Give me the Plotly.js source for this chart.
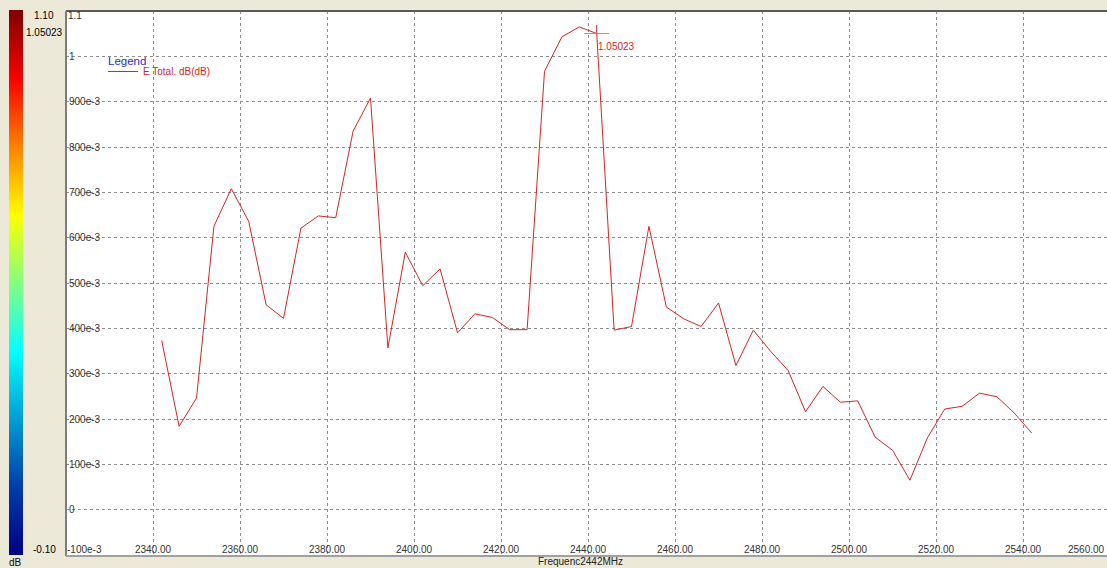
<!DOCTYPE html>
<html>
<head>
<meta charset="utf-8">
<script src="https://cdn.plot.ly/plotly-3.0.1.min.js"></script>
<style>html,body{margin:0;padding:0;background:#ECE9D8;}#chart{width:1107px;height:568px;}</style>
</head>
<body>
<div id="chart"></div>
<script>
// ---- data ----
const freqMHz = [2342,2346,2350,2354,2358,2362,2366,2370,2374,2378,2382,2386,2390,2394,2398,2402,2406,2410,2414,2418,2422,2426,2430,2434,2438,2442,2446,2450,2454,2458,2462,2466,2470,2474,2478,2482,2486,2490,2494,2498,2502,2506,2510,2514,2518,2522,2526,2530,2534,2538,2542];
const eTotalDB = [0.373,0.184,0.246,0.625,0.708,0.636,0.452,0.422,0.621,0.648,0.644,0.835,0.908,0.357,0.568,0.494,0.531,0.390,0.432,0.424,0.397,0.397,0.967,1.043,1.065,1.05023,0.396,0.404,0.625,0.447,0.421,0.404,0.456,0.318,0.396,0.349,0.307,0.216,0.272,0.237,0.240,0.160,0.131,0.065,0.158,0.222,0.228,0.257,0.249,0.213,0.169];
const markerFreq = 2442;
const markerLabel = "1.05023";
const xTickVals = [2340,2360,2380,2400,2420,2440,2460,2480,2500,2520,2540];
const xTickText = ["2340.00","2360.00","2380.00","2400.00","2420.00","2440.00","2460.00","2480.00","2500.00","2520.00","2540.00"];
const yTickVals = [0,0.1,0.2,0.3,0.4,0.5,0.6,0.7,0.8,0.9,1.0];
const yTickText = ["0","100e-3","200e-3","300e-3","400e-3","500e-3","600e-3","700e-3","800e-3","900e-3","1"];
const colorLevels = [-0.1,0.0,0.1,0.2,0.3,0.4,0.5,0.6,0.7,0.8,0.9,1.0,1.1];
const seriesName = "E Total. dB(dB)";
const xTitleText = "Frequenc2442MHz";

// ---- geometry helpers (pixels -> paper) ----
const W = 1107, H = 568;
const px = v => v / W;
const py = v => 1 - v / H;

const mi = freqMHz.indexOf(markerFreq);
const red = "rgb(212,38,38)";
const FONT = "Liberation Sans, Arial, sans-serif";

const jet = [[0,"rgb(0,0,131)"],[0.125,"rgb(0,60,170)"],[0.375,"rgb(5,255,255)"],[0.625,"rgb(255,255,0)"],[0.875,"rgb(250,0,0)"],[1,"rgb(128,0,0)"]];

const traces = [
  {
    x: freqMHz, y: eTotalDB, type: "scatter", mode: "lines",
    name: seriesName, line: {color: red, width: 1}, hoverinfo: "x+y"
  },
  {
    x: [freqMHz[mi]], y: [eTotalDB[mi]], type: "scatter", mode: "markers",
    showlegend: false, hoverinfo: "skip",
    marker: {symbol: "line-ew-open", size: 18, line: {color: red, width: 1}}
  },
  {
    z: colorLevels.map(v => [v]), y: colorLevels, x: [0], type: "heatmap",
    xaxis: "x3", yaxis: "y3", colorscale: jet, zmin: -0.1, zmax: 1.1,
    zsmooth: "best", showscale: false, hoverinfo: "skip"
  }
];

const gridCommon = {gridcolor: "#8c8c8c", griddash: "3px,3px", gridwidth: 1, zeroline: false};

const layout = {
  width: W, height: H,
  margin: {l: 0, r: 0, t: 0, b: 0, pad: 0},
  paper_bgcolor: "#ECE9D8", plot_bgcolor: "#ffffff",
  font: {family: FONT, size: 10, color: "#333"},
  showlegend: true,
  legend: {
    x: px(103), y: py(57), xanchor: "left", yanchor: "top",
    bgcolor: "rgba(0,0,0,0)", borderwidth: 0,
    font: {family: FONT, size: 10, color: red},
    itemwidth: 30, tracegroupgap: 0
  },
  xaxis: Object.assign({
    domain: [px(66), 1], range: [2320, 2559.3],
    tickvals: xTickVals, ticktext: xTickText, ticks: "",
    ticklabelposition: "inside", ticklabelstandoff: -3,
    tickfont: {family: FONT, size: 10, color: "#333"},
    showline: false
  }, gridCommon),
  yaxis: Object.assign({
    domain: [1 - 555 / H, 1 - 11 / H], range: [-0.1, 1.1],
    tickvals: yTickVals, ticktext: yTickText, ticks: "",
    ticklabelposition: "inside", tickfont: {family: FONT, size: 10, color: "#333"},
    showline: false
  }, gridCommon),
  xaxis2: {
    overlaying: "x", side: "top", anchor: "y", range: [2320, 2559.3],
    tickvals: xTickVals, ticks: "inside", ticklen: 11, tickwidth: 2, tickcolor: "#555",
    showticklabels: false, showgrid: false, zeroline: false, showline: false
  },
  yaxis2: {
    overlaying: "y", side: "right", anchor: "x", range: [-0.1, 1.1],
    tickvals: yTickVals, ticks: "inside", ticklen: 7, tickwidth: 2, tickcolor: "#555",
    showticklabels: false, showgrid: false, zeroline: false, showline: false
  },
  xaxis3: {domain: [px(9), px(23)], range: [-0.5, 0.5], visible: false, anchor: "y3"},
  yaxis3: {domain: [1 - 555 / H, 1 - 10 / H], range: [-0.1, 1.1], visible: false, anchor: "x3"},
  shapes: [
    {type: "line", xref: "paper", yref: "paper", x0: px(66), x1: 1, y0: py(11), y1: py(11), line: {color: "#5a5a5a", width: 2}},
    {type: "line", xref: "paper", yref: "paper", x0: px(66), x1: px(66), y0: py(11), y1: py(556), line: {color: "#7d7d7d", width: 2}},
    {type: "line", xref: "paper", yref: "paper", x0: px(66), x1: 1, y0: py(556), y1: py(556), line: {color: "#a0a0a0", width: 2}}
  ],
  annotations: [
    {xref: "paper", yref: "paper", x: px(44), y: py(16), text: "1.10", showarrow: false, xanchor: "center", yanchor: "middle", font: {size: 10, color: "#000"}},
    {xref: "paper", yref: "paper", x: px(44), y: py(32), text: markerLabel, showarrow: false, xanchor: "center", yanchor: "middle", font: {size: 10, color: "#000"}},
    {xref: "paper", yref: "paper", x: px(44), y: py(549), text: "-0.10", showarrow: false, xanchor: "center", yanchor: "middle", font: {size: 10, color: "#000"}},
    {xref: "paper", yref: "paper", x: px(15), y: py(562), text: "dB", showarrow: false, xanchor: "center", yanchor: "middle", font: {size: 10, color: "#000"}},
    {xref: "paper", yref: "paper", x: px(66), y: py(16), text: "1.1", showarrow: false, xanchor: "left", yanchor: "middle", font: {size: 10, color: "#333"}},
    {xref: "paper", yref: "paper", x: px(65), y: py(549), text: "-100e-3", showarrow: false, xanchor: "left", yanchor: "middle", font: {size: 10, color: "#333"}},
    {xref: "paper", yref: "paper", x: 1, y: py(549), text: "2560.00", showarrow: false, xanchor: "right", yanchor: "middle", font: {size: 10, color: "#333"}},
    {xref: "paper", yref: "paper", x: px(536), y: py(561), text: xTitleText, showarrow: false, xanchor: "left", yanchor: "middle", font: {size: 10, color: "#222"}},
    {xref: "paper", yref: "paper", x: px(106), y: py(61), text: "Legend", showarrow: false, xanchor: "left", yanchor: "middle", font: {size: 11.5, color: "#2b2bc4"}},
    {x: freqMHz[mi], y: eTotalDB[mi], xref: "x", yref: "y", text: "", showarrow: true, arrowhead: 0, arrowwidth: 1, arrowcolor: red, ax: 0, ay: -10, standoff: 0},
    {x: freqMHz[mi], y: eTotalDB[mi], xref: "x", yref: "y", text: markerLabel, showarrow: false, xanchor: "left", yanchor: "middle", xshift: -1, yshift: -13, font: {size: 10, color: red}}
  ]
};

Plotly.newPlot("chart", traces, layout, {staticPlot: true, displayModeBar: false});
</script>
</body>
</html>
